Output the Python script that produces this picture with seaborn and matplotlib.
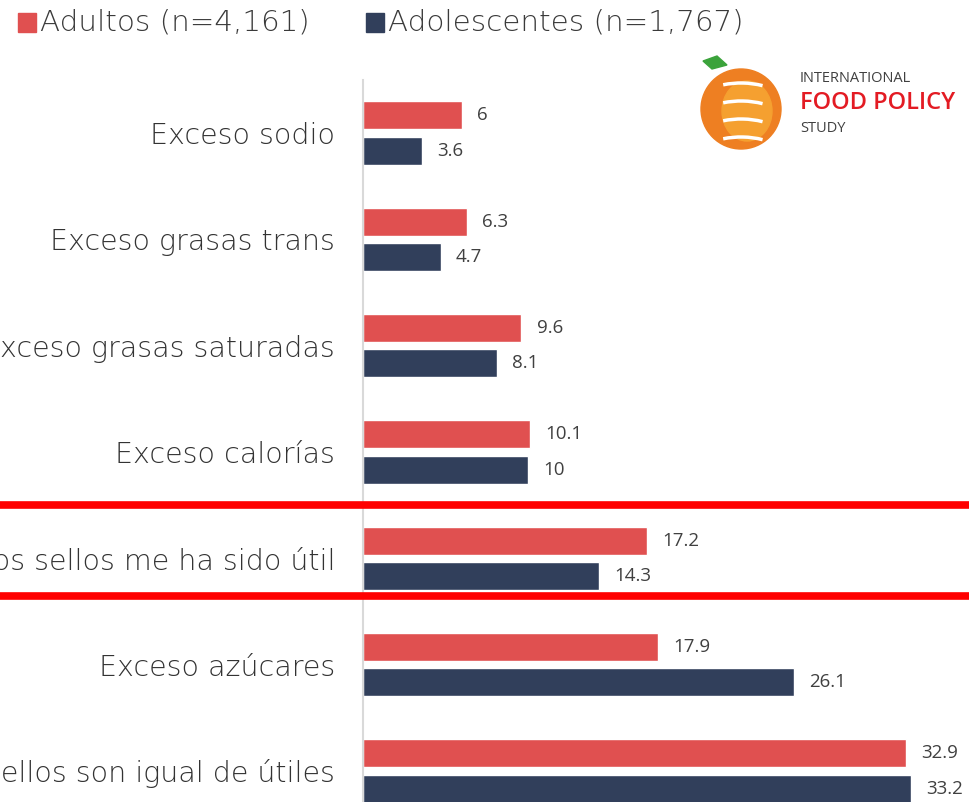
import matplotlib
matplotlib.use("Agg")
import matplotlib.pyplot as plt
import seaborn as sns
import pandas as pd
import numpy as np
from matplotlib.patches import Rectangle, Ellipse, Arc, Polygon
from matplotlib.lines import Line2D

categories = [
    "Exceso sodio",
    "Exceso grasas trans",
    "Exceso grasas saturadas",
    "Exceso calorías",
    "Ninguno de los sellos me ha sido útil",
    "Exceso azúcares",
    "Todos los sellos son igual de útiles",
]
series_names = ["Adultos (n=4,161)", "Adolescentes (n=1,767)"]
adultos = [6, 6.3, 9.6, 10.1, 17.2, 17.9, 32.9]
adolescentes = [3.6, 4.7, 8.1, 10, 14.3, 26.1, 33.2]
colors = ["#E05050", "#313F5B"]

df = pd.DataFrame({
    "Categoria": categories * 2,
    "Grupo": [series_names[0]] * len(categories) + [series_names[1]] * len(categories),
    "Valor": adultos + adolescentes,
})

sns.set_theme(style="white")
plt.rcParams["font.family"] = ["DejaVu Sans"]

W, H = 969, 802
fig = plt.figure(figsize=(W / 100, H / 100), dpi=100)
ax = fig.add_axes([363 / W, 0, 606 / W, 1 - 80 / H])

sns.barplot(data=df, y="Categoria", x="Valor", hue="Grupo", orient="h",
            palette=colors, width=0.66, gap=0.2, ax=ax, legend=False,
            saturation=1, order=categories, hue_order=series_names)

ax.set_xlim(0, 606 / 16.5)
ax.set_ylim(6 + 31 / 106.33, -53 / 106.33)
ax.set_xlabel("")
ax.set_ylabel("")
ax.set_xticks([])
for s in ["top", "right", "bottom"]:
    ax.spines[s].set_visible(False)
ax.spines["left"].set_color("#D9D9D9")
ax.spines["left"].set_linewidth(1.5)
ax.tick_params(axis="y", length=0, pad=20)
for lab in ax.get_yticklabels():
    lab.set_fontsize(20.5)
    lab.set_color("#333333")
    lab.set_fontweight("light")

for cont in ax.containers:
    ax.bar_label(cont, labels=[f"{v:g}" for v in cont.datavalues],
                 padding=11, fontsize=13.5, color="#404040",
                 family=["Open Sans", "DejaVu Sans"])

# red separator lines
for yp in [505, 596]:
    fig.add_artist(Line2D([0, 1], [1 - yp / H, 1 - yp / H], color="#FF0000",
                          linewidth=5.5, transform=fig.transFigure))

# legend
for (x0, name, col) in [(18, series_names[0], colors[0]), (366, series_names[1], colors[1])]:
    fig.add_artist(Rectangle((x0 / W, 1 - 32 / H), 18 / W, 19 / H,
                             transform=fig.transFigure, color=col))
    fig.text((x0 + 22) / W, 1 - 22 / H, name, fontsize=21.2, color="#3A3A3A",
             va="center", ha="left", fontweight="light")

# logo (approximation)
lax = fig.add_axes([695 / W, 1 - 150 / H, 90 / W, 95 / H])
lax.set_xlim(0, 90)
lax.set_ylim(95, 0)
lax.axis("off")
lax.add_patch(Ellipse((46, 54), 80, 80, color="#EE7F22"))
lax.add_patch(Ellipse((52, 56), 50, 60, color="#F5A030"))
for yy in [28, 46, 64, 82]:
    lax.add_patch(Arc((46, yy + 40), 120, 80, theta1=245, theta2=300,
                      color="white", linewidth=2.5))
lax.add_patch(Polygon([[8, 6], [22, 1], [32, 10], [17, 14]], color="#3BA33B"))

fig.text(800 / W, 1 - 78 / H, "INTERNATIONAL", fontsize=10.5, color="#404040",
         va="center", ha="left", family=["Open Sans", "DejaVu Sans"])
fig.text(800 / W, 1 - 103 / H, "FOOD POLICY", fontsize=17, color="#E31B23",
         va="center", ha="left", fontweight="semibold", family=["Open Sans", "DejaVu Sans"])
fig.text(800 / W, 1 - 128 / H, "STUDY", fontsize=10.5, color="#404040",
         va="center", ha="left", family=["Open Sans", "DejaVu Sans"])

fig.savefig("out.png", dpi=100)
